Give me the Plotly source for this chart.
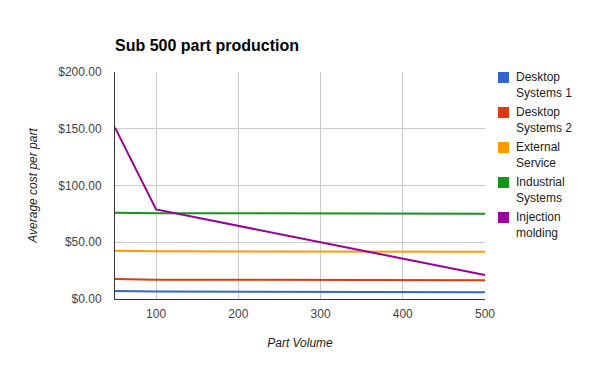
import plotly.graph_objects as go

volumes = [50, 100, 500]
series_names = ["Desktop Systems 1", "Desktop Systems 2", "External Service",
                "Industrial Systems", "Injection molding"]
legend_labels = ["Desktop<br>Systems 1", "Desktop<br>Systems 2", "External<br>Service",
                 "Industrial<br>Systems", "Injection<br>molding"]
desktop1 = [7.0, 6.6, 6.0]
desktop2 = [17.6, 17.0, 16.6]
external = [42.6, 42.0, 41.6]
industrial = [76.0, 75.6, 75.2]
injection = [151.0, 78.9, 21.1]
colors = ["#3366cc", "#dc3912", "#ff9900", "#109618", "#990099"]
x_ticks = [100, 200, 300, 400, 500]
y_ticks = [0, 50, 100, 150, 200]
y_tick_labels = ["$0.00", "$50.00", "$100.00", "$150.00", "$200.00"]

FONT = "Liberation Sans, Arial, sans-serif"

fig = go.Figure()
for name, vals, col in zip(series_names, [desktop1, desktop2, external, industrial, injection], colors):
    fig.add_trace(go.Scatter(x=volumes, y=vals, mode="lines", name=name,
                             line=dict(color=col, width=2), showlegend=False))

# custom legend (square swatches, wrapped text)
for i, (lab, col) in enumerate(zip(legend_labels, colors)):
    top = 72 + 35 * i
    fig.add_shape(type="rect", xref="paper", yref="paper",
                  x0=(498 - 115) / 370, x1=(509 - 115) / 370,
                  y0=(299 - top) / 227, y1=(299 - top - 11) / 227,
                  fillcolor=col, line=dict(width=0))
    fig.add_annotation(xref="paper", yref="paper", x=(514 - 115) / 370, y=(299 - top + 4) / 227,
                       xanchor="left", yanchor="top", text=lab, showarrow=False, align="left",
                       font=dict(family=FONT, size=12, color="#222222"))

fig.update_layout(
    width=600, height=371,
    margin=dict(l=115, r=115, t=72, b=72),
    paper_bgcolor="white", plot_bgcolor="white",
    title=dict(text="<b>Sub 500 part production</b>", x=115 / 600, xanchor="left",
               y=1 - 45 / 371, yanchor="middle",
               font=dict(family=FONT, size=16, color="#000000")),
    font=dict(family=FONT, size=12, color="#444444"),
    xaxis=dict(range=[50, 500], tickvals=x_ticks, showgrid=True, gridcolor="#cccccc",
               showline=True, linecolor="#333333", linewidth=1, zeroline=False,
               ticks="", ticklabelstandoff=4, automargin=False,
               title=dict(text="<i>Part Volume</i>", standoff=18,
                          font=dict(family=FONT, size=12, color="#222222"))),
    yaxis=dict(range=[0, 200], tickvals=y_ticks, ticktext=y_tick_labels, showgrid=True,
               gridcolor="#cccccc", showline=True, linecolor="#333333", linewidth=1,
               zeroline=False, ticks="", ticklabelstandoff=10, automargin=False,
               title=dict(text="<i>Average cost per part</i>", standoff=18,
                          font=dict(family=FONT, size=12, color="#222222"))),
)

fig.write_html("out.html", config={"displayModeBar": False},
               post_script="document.body.style.margin='0';document.body.style.overflow='hidden';")
